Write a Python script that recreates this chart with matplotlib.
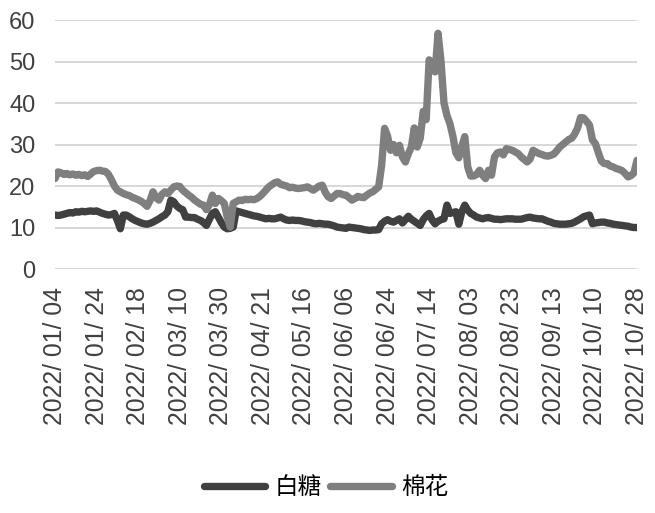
import numpy as np
import matplotlib
matplotlib.use("Agg")
import matplotlib.pyplot as plt

plt.rcParams['font.family'] = ['Liberation Sans', 'Noto Sans CJK SC', 'DejaVu Sans']

# tick labels, one every 14 trading days
tick_labels = ["2022/ 01/ 04", "2022/ 01/ 24", "2022/ 02/ 18", "2022/ 03/ 10",
               "2022/ 03/ 30", "2022/ 04/ 21", "2022/ 05/ 16", "2022/ 06/ 06",
               "2022/ 06/ 24", "2022/ 07/ 14", "2022/ 08/ 03", "2022/ 08/ 23",
               "2022/ 09/ 13", "2022/ 10/ 10", "2022/ 10/ 28"]

# 白糖 (sugar), one value per trading day
sugar = [13.0, 12.9, 13.0, 13.2, 13.4, 13.6, 13.5, 13.8, 13.7, 13.9,
         13.8, 13.9, 14.0, 13.9, 14.0, 13.7, 13.4, 13.2, 13.0, 13.1,
         13.4, 11.7, 9.7, 13.0, 13.0, 12.6, 12.1, 11.7, 11.4, 11.1,
         10.9, 10.8, 11.0, 11.3, 11.7, 12.1, 12.6, 13.0, 13.8, 16.6,
         16.2, 15.2, 14.6, 14.3, 12.5, 12.5, 12.4, 12.4, 12.0, 11.7,
         11.2, 10.5, 12.0, 13.4, 13.8, 12.5, 11.2, 10.1, 9.7, 9.8,
         10.1, 14.0, 13.8, 13.6, 13.4, 13.2, 13.0, 12.8, 12.7, 12.5,
         12.3, 12.1, 12.2, 12.1, 12.1, 12.3, 12.5, 12.1, 11.8, 11.7,
         11.8, 11.7, 11.7, 11.6, 11.4, 11.3, 11.2, 11.0, 10.9, 11.0,
         10.9, 10.8, 10.8, 10.6, 10.4, 10.1, 10.0, 9.9, 9.8, 10.1,
         10.0, 9.9, 9.8, 9.7, 9.5, 9.4, 9.3, 9.4, 9.4, 9.5,
         10.9, 11.5, 11.9, 11.5, 11.3, 11.7, 12.1, 11.1, 11.9, 12.7,
         12.0, 11.5, 11.0, 10.5, 11.9, 12.8, 13.4, 11.8, 10.9, 11.5,
         11.9, 12.1, 15.4, 13.4, 13.6, 13.8, 10.8, 13.8, 15.4, 14.2,
         13.4, 13.0, 12.5, 12.3, 12.1, 12.3, 12.4, 12.2, 12.0, 12.0,
         11.9, 12.0, 12.1, 12.1, 12.1, 12.0, 12.0, 12.0, 12.2, 12.4,
         12.5, 12.3, 12.2, 12.1, 12.1, 11.8, 11.5, 11.3, 11.0, 10.9,
         10.8, 10.8, 10.8, 10.9, 11.0, 11.3, 11.7, 12.1, 12.6, 12.8,
         13.0, 10.9, 11.1, 11.2, 11.3, 11.3, 11.1, 11.0, 10.8, 10.7,
         10.6, 10.5, 10.4, 10.3, 10.1, 10.0, 10.0]

# 棉花 (cotton)
cotton = [21.8, 23.4, 23.2, 22.8, 23.0, 22.7, 22.9, 22.6, 22.8, 22.5,
          22.7, 22.3, 22.9, 23.5, 23.7, 23.8, 23.6, 23.5, 22.8, 21.5,
          20.0, 19.0, 18.6, 18.2, 17.9, 17.7, 17.3, 17.0, 16.7, 16.3,
          15.8, 15.1, 16.5, 18.6, 17.2, 16.6, 18.0, 18.6, 18.2, 19.0,
          19.8, 20.0, 19.9, 19.0, 18.4, 17.8, 17.3, 16.6, 16.1, 15.6,
          15.4, 14.3, 15.5, 17.8, 15.8, 17.0, 16.5, 15.8, 12.5, 10.1,
          15.8, 16.2, 16.6, 16.5, 16.8, 16.7, 16.8, 16.7, 17.0, 17.5,
          18.2, 19.0, 19.8, 20.3, 20.8, 21.0, 20.4, 20.2, 20.0, 19.6,
          19.7, 19.5, 19.4, 19.5, 19.6, 19.8, 19.4, 19.0, 19.5, 20.0,
          20.2, 18.5, 17.4, 17.0, 17.6, 18.2, 18.2, 17.9, 17.8, 17.2,
          16.6, 17.0, 17.5, 17.3, 17.2, 17.8, 18.3, 18.6, 19.2, 19.8,
          25.0, 33.9, 32.0, 28.6, 30.0, 28.0, 29.8, 27.0, 25.8, 27.8,
          29.4, 34.0, 29.4, 31.5, 38.0, 36.0, 50.4, 48.0, 47.5, 56.8,
          50.0, 40.0, 37.0, 35.0, 32.0, 28.0, 26.8, 29.5, 31.9, 24.6,
          22.4, 22.4, 22.8, 23.8, 22.6, 21.8, 23.8, 22.6, 27.0, 28.0,
          28.2, 27.5, 29.0, 28.8, 28.6, 28.2, 27.8, 27.0, 26.4, 25.8,
          26.5, 28.6, 28.2, 27.8, 27.6, 27.3, 27.2, 27.4, 27.7, 28.5,
          29.4, 30.0, 30.6, 31.2, 31.5, 32.5, 34.0, 36.5, 36.4, 35.6,
          34.7, 31.1, 30.2, 28.0, 26.0, 25.4, 25.4, 24.8, 24.6, 24.2,
          24.0, 23.7, 23.0, 22.2, 22.5, 23.2, 26.2]

x = np.arange(len(sugar))

fig = plt.figure(figsize=(6.55, 5.13), dpi=100)
ax = fig.add_axes([0.084, 0.4756, 0.8885, 0.4854])

ax.plot(x, sugar, color='#404040', linewidth=5.3, label='白糖', solid_capstyle='round', solid_joinstyle='round')
ax.plot(x, cotton, color='#7f7f7f', linewidth=5.3, label='棉花', solid_capstyle='round', solid_joinstyle='round')

ax.set_xlim(0, len(sugar) - 1)
ax.set_ylim(0, 60)
ax.set_yticks(range(0, 61, 10))
ax.set_xticks(range(0, len(sugar), 14))
ax.set_xticklabels(tick_labels, rotation=90)

ax.grid(axis='y', color='#d4d4d4', linewidth=1.3)
ax.set_axisbelow(True)
for s in ax.spines.values():
    s.set_visible(False)
ax.tick_params(axis='both', length=0, labelsize=17, colors='#404040')
ax.tick_params(axis='x', labelsize=17.8, pad=13)
ax.tick_params(axis='y', pad=14)

fig.legend(loc='center', bbox_to_anchor=(0.498, 0.049), ncol=2, frameon=False,
           handlelength=2.6, handletextpad=0.4, columnspacing=0.35,
           prop={'family': ['Noto Sans CJK SC'], 'size': 17})

plt.savefig("out.png", dpi=100)
